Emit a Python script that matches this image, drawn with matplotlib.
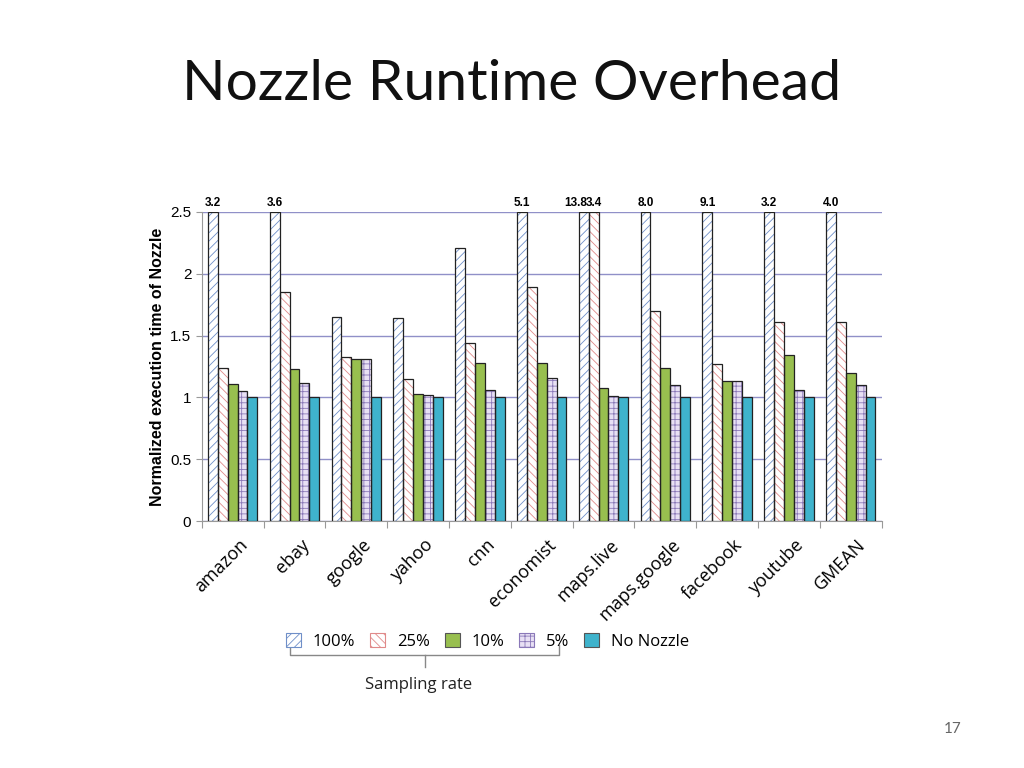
import matplotlib
matplotlib.use("Agg")
import matplotlib.pyplot as plt
import numpy as np
from matplotlib.patches import Patch

categories = ["amazon", "ebay", "google", "yahoo", "cnn", "economist", "maps.live",
              "maps.google", "facebook", "youtube", "GMEAN"]
s100 = [3.2, 3.6, 1.65, 1.64, 2.21, 5.1, 13.8, 8.0, 9.1, 3.2, 4.0]
s25 = [1.24, 1.85, 1.33, 1.15, 1.44, 1.89, 3.4, 1.70, 1.27, 1.61, 1.61]
s10 = [1.11, 1.23, 1.31, 1.03, 1.28, 1.28, 1.08, 1.24, 1.13, 1.34, 1.20]
s5 = [1.05, 1.12, 1.31, 1.02, 1.06, 1.16, 1.01, 1.10, 1.13, 1.06, 1.10]
nonozzle = [1.0] * 11
series_names = ["100%", "25%", "10%", "5%", "No Nozzle"]

plt.rcParams["hatch.linewidth"] = 0.6
fig = plt.figure(figsize=(10.24, 7.68), dpi=100)
fig.text(0.5, 0.87, "Nozzle Runtime Overhead", ha="center", fontsize=41, family="Lato", color="#111")
fig.text(0.93, 0.045, "17", ha="center", fontsize=11, color="#666", family="Lato")

ax = fig.add_axes([0.197, 0.3216, 0.664, 0.4024])
ymax = 2.5
styles = [
    dict(facecolor="white", hatch="////", ec="#6f8fc8"),
    dict(facecolor="white", hatch="\\\\\\\\", ec="#e08a8a"),
    dict(facecolor="#98bf4f", hatch="", ec="#98bf4f"),
    dict(facecolor="#e8e0f4", hatch="+++", ec="#8a78b8"),
    dict(facecolor="#3fb3cc", hatch="", ec="#3fb3cc"),
]
allser = [s100, s25, s10, s5, nonozzle]
x = np.arange(len(categories))
w = 0.16
for i, (vals, st) in enumerate(zip(allser, styles)):
    pos = x + (i - 2) * w
    h = [min(v, ymax) for v in vals]
    ax.bar(pos, h, w, color=st["facecolor"], hatch=st["hatch"], edgecolor=st["ec"], lw=0, zorder=3)
    ax.bar(pos, h, w, fill=False, edgecolor="#222", lw=0.9, zorder=4)
    for j, (p, v) in enumerate(zip(pos, vals)):
        if v > ymax:
            both = i == 0 and vals[j] > ymax and s25[j] > ymax
            ax.text(p + (0.06 if both else 0), ymax + 0.02, f"{v:.1f}",
                    ha="right" if both else "center", va="bottom", fontsize=8.5,
                    fontweight="bold", family="Liberation Sans")

ax.set_ylim(0, ymax)
ax.set_xlim(-0.5, len(categories) - 0.5)
ax.set_yticks([0, 0.5, 1, 1.5, 2, 2.5])
ax.set_yticklabels(["0", "0.5", "1", "1.5", "2", "2.5"], fontsize=11, family="Liberation Sans")
ax.yaxis.grid(True, color="#9090c8", lw=1, zorder=0)
ax.set_xticks(np.arange(len(categories) + 1) - 0.5, minor=False)
ax.set_xticklabels([])
ax.tick_params(axis="x", length=5, color="#999")
ax.tick_params(axis="y", length=4, color="#999")
for c, xi in zip(categories, x):
    ax.text(xi + 0.3, -0.12, c, rotation=45, ha="right", va="top", fontsize=13,
            family="Open Sans", transform=ax.transData, clip_on=False)
for s in ["top", "right"]:
    ax.spines[s].set_visible(False)
ax.spines["left"].set_color("#999")
ax.spines["bottom"].set_color("#999")
ax.set_ylabel("Normalized execution time of Nozzle", fontsize=11.5, fontweight="bold",
              family="Liberation Sans")

handles = [Patch(facecolor=st["facecolor"], hatch=st["hatch"], edgecolor=st["ec"] if st["hatch"] else "#555",
                 lw=0.8) for st in styles]
fig.legend(handles, series_names, loc="center", bbox_to_anchor=(0.476, 0.165), ncol=5, frameon=False,
           handlelength=0.9, handleheight=0.9, columnspacing=0.9, handletextpad=0.7,
           prop={"family": "Open Sans", "size": 12})
# bracket
fig.add_artist(plt.Line2D([0.283, 0.283, 0.546, 0.546], [0.16, 0.147, 0.147, 0.16], color="#888", lw=1))
fig.add_artist(plt.Line2D([0.415, 0.415], [0.147, 0.132], color="#888", lw=1))
fig.text(0.409, 0.103, "Sampling rate", ha="center", fontsize=12, family="Open Sans", color="#222")

fig.savefig("out.png", dpi=100)
